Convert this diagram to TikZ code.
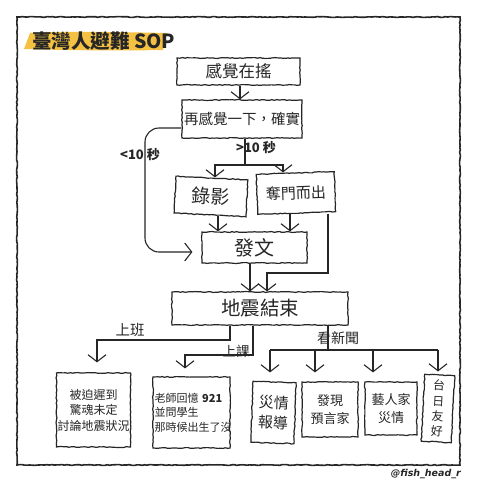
\documentclass[tikz,border=0pt]{standalone}
\usepackage{fontspec}
\setmainfont{Noto Sans CJK TC}
\newfontfamily\wmfont{DejaVu Sans}
\usetikzlibrary{arrows.meta,decorations.pathmorphing}
\definecolor{ink}{HTML}{262626}
\definecolor{hl}{HTML}{F4C143}
\tikzset{
  sketch/.style={decorate,decoration={random steps,segment length=2.5pt,amplitude=0.45pt}},
  box/.style={draw=ink,line width=1.2pt,sketch,text=ink,inner sep=1pt,align=center},
  arr/.style={draw=ink,line width=1.1pt,-{Straight Barb[length=7pt,width=18pt,line width=1.1pt]}},
  ln/.style={draw=ink,line width=1.1pt},
  lbl/.style={text=ink,inner sep=0pt}
}
\begin{document}
\begin{tikzpicture}[x=1pt,y=-1pt]
\pgfmathsetseed{7}
\useasboundingbox (0,0) rectangle (480,480);
\fill[white] (0,0) rectangle (480,480);
% frame
\draw[ink,line width=1.6pt,sketch] (17,17) rectangle (460,465);
% title highlight
\fill[hl] (30,33) .. controls (60,31) and (120,32) .. (167,33) -- (163,50) .. controls (110,51) and (60,50) .. (24,49) -- cycle;
\node[lbl,anchor=west,font=\bfseries\fontsize{19.5}{19.5}\selectfont] (title) at (32,41) {臺灣人避難 SOP};
% nodes
\node[box,minimum width=123,minimum height=27,font=\fontsize{16.5}{16.5}\selectfont] (b1) at (238.5,71.5) {感覺在搖};
\node[box,minimum width=120,minimum height=38,font=\fontsize{14.5}{14.5}\selectfont] (b2) at (242,119) {再感覺一下，確實};
\node[box,minimum width=72,minimum height=37,rotate=-3,font=\fontsize{19}{19}\selectfont] (rec) at (211,196.5) {錄影};
\node[box,minimum width=78,minimum height=40,rotate=2,font=\fontsize{15}{15}\selectfont] (run) at (296,193) {奪門而出};
\node[box,minimum width=105,minimum height=31,font=\fontsize{20}{20}\selectfont] (fa) at (254.5,247.5) {發文};
\node[box,minimum width=176,minimum height=33,font=\fontsize{19.5}{19.5}\selectfont] (end) at (260,308.5) {地震結束};
\node[box,minimum width=73,minimum height=74,font=\fontsize{12}{15.5}\selectfont] (A) at (93.5,410) {被迫遲到\\驚魂未定\\討論地震狀況};
\node[box,minimum width=77,minimum height=71,text width=74,align=left,font=\fontsize{11}{14.5}\selectfont] (B) at (191.5,412.5) {老師回憶 \textbf{921}\\並問學生\\那時候出生了沒};
\node[box,minimum width=43,minimum height=61,rotate=-2,font=\fontsize{15}{20}\selectfont] (C) at (273.5,412.5) {災情\\報導};
\node[box,minimum width=56,minimum height=55,font=\fontsize{13}{18}\selectfont] (D) at (330,409.5) {發現\\預言家};
\node[box,minimum width=52,minimum height=53,font=\fontsize{13}{18}\selectfont] (E) at (391,408.5) {藝人家\\災情};
\node[box,minimum width=30,minimum height=67,rotate=-3,font=\fontsize{12}{15.5}\selectfont] (F) at (438,408.5) {台\\日\\友\\好};
% labels
\node[lbl,font=\bfseries\fontsize{13}{13}\selectfont] (l1) at (140,155) {<10 秒};
\node[lbl,font=\bfseries\fontsize{13}{13}\selectfont] (l2) at (256,148) {>10 秒};
\node[lbl,font=\fontsize{14.5}{14.5}\selectfont] (l3) at (130,330) {上班};
\node[lbl,font=\fontsize{13.5}{13.5}\selectfont] (l4) at (236,351) {上課};
\node[lbl,font=\fontsize{14}{14}\selectfont] (l5) at (338,338) {看新聞};
\node[lbl,anchor=east,font=\wmfont\bfseries\itshape\fontsize{9.5}{9.5}\selectfont] (wm) at (461,474) {@fish\_head\_r};
% connectors
\draw[arr] (b1.south -| 240,0) -- (240,0 |- b2.north);
\coordinate (j1) at (245,165);
\draw[ln] (b2.south -| j1) -- (j1);
\draw[arr] (j1) -| (215,0 |- rec.north);
\draw[arr] (j1) -| (283,0 |- run.north);
\draw[arr,rounded corners=14pt,shorten >=9pt] (b2.west |- 0,128) -- (145,128) -- (145,252) -- (fa.west |- 0,252);
\draw[arr] (218,0 |- rec.south) -- (218,0 |- fa.north);
\draw[arr] (290,0 |- run.south) -- (290,0 |- fa.north);
\draw[arr] (250,0 |- fa.south) -- (250,0 |- end.north);
\coordinate (j2) at (267,273);
\draw[arr] (328,0 |- run.south) |- (j2) -- (j2 |- end.north);
% bottom
\draw[arr,shorten >=10pt] (230,0 |- end.south) |- (97,340) -- (97,0 |- A.north);
\draw[arr,shorten >=8pt] (253,0 |- end.south) |- (185,355) -- (185,0 |- B.north);
\coordinate (j3) at (328,350);
\draw[ln] (j3 |- end.south) -- (j3);
\draw[ln] (270,350) -- (438,350);
\draw[arr,shorten >=9pt] (270,350) -- (270,0 |- C.north);
\draw[arr,shorten >=9pt] (315,350) -- (315,0 |- D.north);
\draw[arr,shorten >=9pt] (373,350) -- (373,0 |- E.north);
\draw[arr,shorten >=3pt] (438,350) -- (438,0 |- F.north);
\end{tikzpicture}
\end{document}
